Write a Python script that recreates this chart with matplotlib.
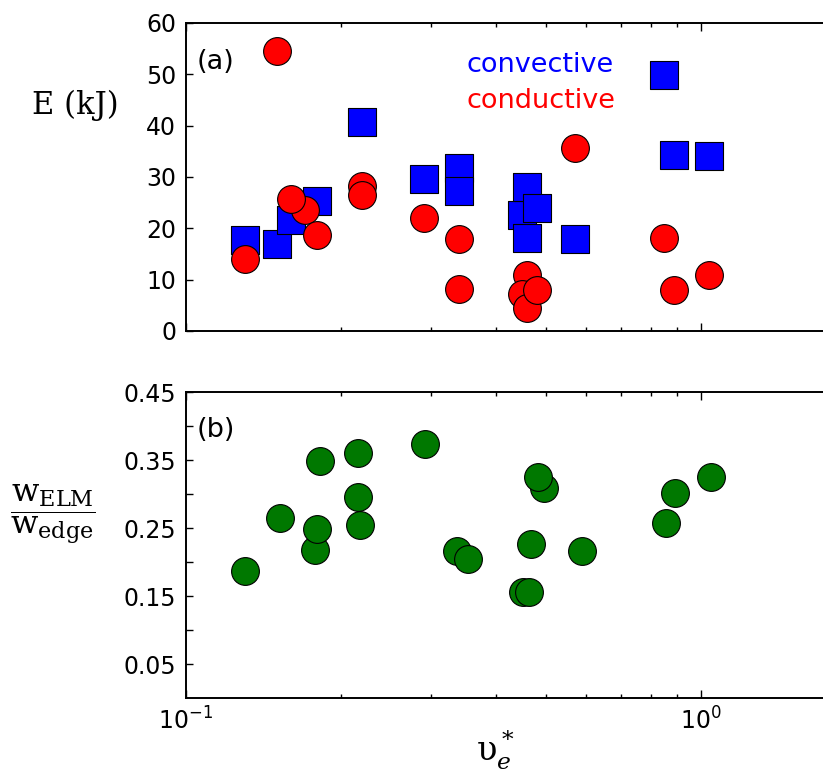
import matplotlib
matplotlib.use('Agg')
import matplotlib.pyplot as plt
from matplotlib.ticker import FixedLocator, LogLocator, NullFormatter

# collisionality (x) and ELM energy loss, panel (a)
conv_nu = [0.130, 0.150, 0.160, 0.180, 0.220, 0.290, 0.340, 0.340,
           0.450, 0.459, 0.459, 0.480, 0.569, 0.849, 0.888, 1.038]
conv_E = [17.7, 17.0, 21.6, 25.3, 40.7, 29.6, 31.7, 27.3,
          22.6, 28.1, 18.1, 23.9, 17.9, 49.8, 34.2, 34.0]

cond_nu = [0.130, 0.150, 0.170, 0.160, 0.180, 0.220, 0.220, 0.290, 0.340,
           0.340, 0.459, 0.450, 0.459, 0.480, 0.569, 0.849, 0.888, 1.038]
cond_E = [14.0, 54.6, 23.6, 25.7, 18.7, 28.2, 26.5, 22.1, 17.9,
          8.2, 10.9, 7.2, 4.4, 8.0, 35.6, 18.1, 7.9, 11.0]

# panel (b): fraction of edge stored energy lost
ratio_nu = [0.130, 0.152, 0.182, 0.178, 0.180, 0.216, 0.216, 0.218, 0.292, 0.337,
            0.354, 0.452, 0.464, 0.469, 0.497, 0.483, 0.589, 0.856, 0.891, 1.048]
ratio = [0.187, 0.265, 0.349, 0.218, 0.249, 0.361, 0.296, 0.255, 0.374, 0.216,
         0.204, 0.156, 0.156, 0.226, 0.309, 0.325, 0.216, 0.257, 0.302, 0.325]

e_ticks = [0, 10, 20, 30, 40, 50, 60]
ratio_ticks = [0.05, 0.15, 0.25, 0.35, 0.45]
ratio_minor = [0.1, 0.2, 0.3, 0.4]

plt.rcParams['mathtext.fontset'] = 'dejavuserif'

W, H = 823, 771
fig = plt.figure(figsize=(W / 100, H / 100), dpi=100)

left = 186 / W
width = 1 - left
ax1 = fig.add_axes([left, 1 - 331 / H, width, 308 / H])
ax2 = fig.add_axes([left, 1 - 698 / H, width, 306 / H])

ms = 400
ax1.scatter(conv_nu, conv_E, s=ms, marker='s', c='#0000ff',
            edgecolors='black', linewidths=0.8, zorder=3)
ax1.scatter(cond_nu, cond_E, s=ms, marker='o', c='#ff0000',
            edgecolors='black', linewidths=0.8, zorder=4)
ax2.scatter(ratio_nu, ratio, s=ms, marker='o', c='#007800',
            edgecolors='black', linewidths=0.8, zorder=3)

for ax in (ax1, ax2):
    ax.set_xscale('log')
    ax.set_xlim(0.1, 1.73)
    ax.spines['right'].set_visible(False)
    for sp in ('left', 'top', 'bottom'):
        ax.spines[sp].set_linewidth(1.4)
    ax.xaxis.set_major_locator(LogLocator(base=10))
    ax.xaxis.set_minor_locator(LogLocator(base=10, subs=range(2, 10)))
    ax.xaxis.set_minor_formatter(NullFormatter())
    ax.tick_params(which='both', direction='in', top=True, right=False,
                   labelsize=17, pad=7, width=1.0)
    ax.tick_params(axis='x', which='major', length=6)
    ax.tick_params(axis='x', which='minor', length=3)
    ax.tick_params(axis='y', which='both', length=5)

ax1.set_ylim(0, 60)
ax1.set_yticks(e_ticks)
ax1.tick_params(axis='x', labelbottom=False)

ax2.set_ylim(0, 0.45)
ax2.yaxis.set_major_locator(FixedLocator(ratio_ticks))
ax2.yaxis.set_minor_locator(FixedLocator(ratio_minor))
ax2.set_yticklabels([f'{t:.2f}' for t in ratio_ticks])

ax1.text(0.017, 0.873, '(a)', transform=ax1.transAxes, fontsize=19.5,
         ha='left', va='center')
ax2.text(0.017, 0.876, '(b)', transform=ax2.transAxes, fontsize=19.5,
         ha='left', va='center')
ax1.text(0.44, 0.864, 'convective', transform=ax1.transAxes, fontsize=19.5,
         color='#0000ff', ha='left', va='center')
ax1.text(0.44, 0.747, 'conductive', transform=ax1.transAxes, fontsize=19.5,
         color='#ff0000', ha='left', va='center')

fig.text(75 / W, 1 - 105 / H, 'E (kJ)', family='DejaVu Serif', fontsize=22,
         ha='center', va='center')
fig.text(53 / W, 1 - 514 / H,
         r'$\dfrac{\mathrm{w}_{\mathrm{ELM}}}{\mathrm{w}_{\mathrm{edge}}}$',
         fontsize=23, ha='center', va='center')
fig.text(495 / W, 1 - 750 / H, r'$\mathrm{\upsilon}_e^*$', fontsize=24,
         ha='center', va='center')

fig.savefig('out.png', dpi=100)
